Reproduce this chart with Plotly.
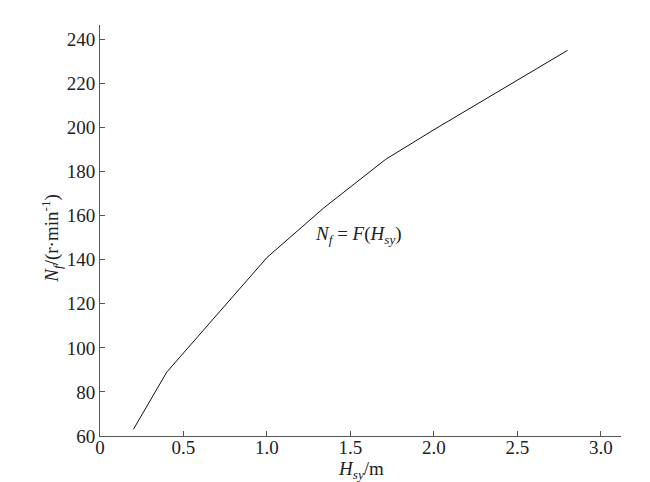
import plotly.graph_objects as go

h_sy = [0.2, 0.4, 1.0, 1.34, 1.71, 2.0, 2.8]
n_f = [63, 89, 141, 163.5, 185.5, 199, 235]
x_tickvals = [0, 0.5, 1.0, 1.5, 2.0, 2.5, 3.0]
x_ticktext = ["0", "0.5", "1.0", "1.5", "2.0", "2.5", "3.0"]
y_tickvals = [60, 80, 100, 120, 140, 160, 180, 200, 220, 240]

FAM = "Liberation Serif"
TXT = dict(family=FAM, size=19, color="#222")

fig = go.Figure()
fig.add_trace(go.Scatter(x=h_sy, y=n_f, mode="lines",
                         line=dict(color="#111", width=1), showlegend=False))
fig.add_annotation(x=1.55, y=151, text="<i>N</i><sub><i>f</i></sub> = <i>F</i>(<i>H</i><sub><i>sy</i></sub>)",
                   showarrow=False, font=TXT)
# axis titles
fig.add_annotation(xref="paper", yref="paper", x=0.5, y=0, xanchor="center", yanchor="top",
                   yshift=-20, text="<i>H</i><sub><i>sy</i></sub>/m", showarrow=False, font=TXT)
fig.add_annotation(xref="paper", yref="paper", x=0, y=0.48, xanchor="center", yanchor="middle",
                   xshift=-48, textangle=-90,
                   text="<i>N</i><sub><i>f</i></sub>/(r·min<sup>-1</sup>)", showarrow=False, font=TXT)
fig.update_layout(
    width=650, height=482,
    margin=dict(l=92, r=37, t=17, b=54),
    paper_bgcolor="white", plot_bgcolor="white",
    font=TXT,
    xaxis=dict(range=[0, 3.12], tickvals=x_tickvals, ticktext=x_ticktext,
               ticks="inside", ticklen=5, tickcolor="#555", tickfont=TXT,
               ticklabelstandoff=-6,
               showline=True, linecolor="#555", linewidth=1,
               showgrid=False, zeroline=False),
    yaxis=dict(range=[60, 246.5], tickvals=y_tickvals,
               ticks="inside", ticklen=5, tickcolor="#555", tickfont=TXT,
               showline=True, linecolor="#555", linewidth=1,
               showgrid=False, zeroline=False),
)
fig.write_html("out.html")
